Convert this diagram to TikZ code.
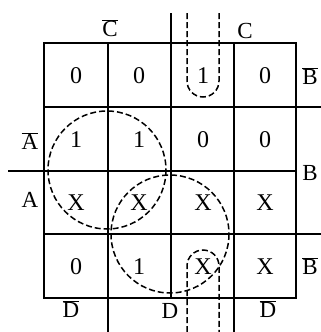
\documentclass[tikz,border=0pt]{standalone}
\usepackage{fontspec}
\setmainfont{Liberation Serif}
\newcommand{\ovl}[1]{$\overline{\mbox{#1}}$}
\begin{document}
\begin{tikzpicture}[x=1pt,y=-1pt,
  grid/.style={line width=1.8pt},
  loop/.style={line width=1.5pt, dash pattern=on 6pt off 3pt},
  val/.style={font=\fontsize{24}{24}\selectfont, inner sep=0pt},
  lab/.style={font=\fontsize{23}{23}\selectfont, inner sep=0pt}]
\useasboundingbox (0,0) rectangle (321,332);
% grid
\draw[grid] (44,43) rectangle (296,298);
\draw[grid] (108,43) -- (108,332);
\draw[grid] (234,43) -- (234,332);
\draw[grid] (171,13) -- (171,298);
\draw[grid] (44,107) -- (321,107);
\draw[grid] (44,234) -- (321,234);
\draw[grid] (8,171) -- (296,171);
% cell values
\node[val] (r1c1) at (76,76) {0};
\node[val] (r1c2) at (139,76) {0};
\node[val] (r1c3) at (203,76) {1};
\node[val] (r1c4) at (265,76) {0};
\node[val] (r2c1) at (76,140) {1};
\node[val] (r2c2) at (139,140) {1};
\node[val] (r2c3) at (203,140) {0};
\node[val] (r2c4) at (265,140) {0};
\node[val] (r3c1) at (76,203) {X};
\node[val] (r3c2) at (139,203) {X};
\node[val] (r3c3) at (203,203) {X};
\node[val] (r3c4) at (265,203) {X};
\node[val] (r4c1) at (76,267) {0};
\node[val] (r4c2) at (139,267) {1};
\node[val] (r4c3) at (203,267) {X};
\node[val] (r4c4) at (265,267) {X};
% labels
\node[lab] (lCb) at (110,28) {\ovl{C}};
\node[lab] (lC) at (245,31) {C};
\node[lab] (lBb1) at (310,76) {\ovl{B}};
\node[lab] (lB) at (310,173) {B};
\node[lab] (lBb2) at (310,266) {\ovl{B}};
\node[lab] (lAb) at (30,141) {\ovl{A}};
\node[lab] (lA) at (30,200) {A};
\node[lab] (lDb1) at (71,309) {\ovl{D}};
\node[lab] (lD) at (170,311) {D};
\node[lab] (lDb2) at (268,309) {\ovl{D}};
% loops
\draw[loop] (107,170) circle[radius=59];
\draw[loop] (170,234) circle[radius=59];
\draw[loop] (187,13) -- (187,81) arc[start angle=180,end angle=0,radius=16] -- (219,13);
\draw[loop] (187,332) -- (187,266) arc[start angle=180,end angle=360,radius=16] -- (219,332);
\end{tikzpicture}
\end{document}
